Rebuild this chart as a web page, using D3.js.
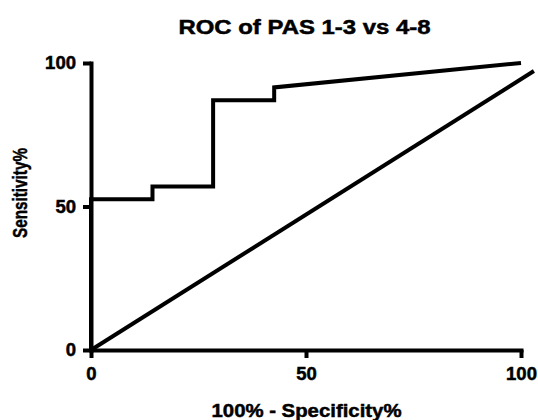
<!DOCTYPE html>
<html>
<head>
<meta charset="utf-8">
<script src="https://cdn.jsdelivr.net/npm/d3@7"></script>
<style>
  html, body { margin: 0; padding: 0; background: #fff; }
  svg { display: block; }
  text { font-family: "Liberation Sans", Arial, Helvetica, sans-serif; font-weight: bold; fill: #000; stroke: #000; stroke-width: 0.5px; }
</style>
</head>
<body>
<svg id="chart" width="538" height="420"></svg>
<script>
// ---- data ----
const title = "ROC of PAS 1-3 vs 4-8";
const xLabel = "100% - Specificity%";
const yLabel = "Sensitivity%";
const xTicks = [0, 50, 100];
const yTicks = [0, 50, 100];
// ROC curve (100% - specificity, sensitivity)
const rocX = [0, 0, 14.3, 14.3, 28.4, 28.4, 42.6, 42.6, 100];
const rocY = [0, 52.5, 52.5, 57, 57, 87, 87, 91.5, 100];
// reference line as drawn
const refX = [0, 103];
const refY = [0, 97.2];

// ---- layout ----
const svg = d3.select("#chart");
const x = d3.scaleLinear().domain([0, 100]).range([91, 521]);
const y = d3.scaleLinear().domain([0, 100]).range([350, 63]);

const line = d3.line().x(d => x(d[0])).y(d => y(d[1]));

// axes
const xAxis = svg.append("g")
  .attr("transform", `translate(0,${y(0)})`)
  .call(d3.axisBottom(x).tickValues(xTicks).tickSize(8).tickSizeOuter(0).tickPadding(9));
const yAxis = svg.append("g")
  .attr("transform", `translate(${x(0)},0)`)
  .call(d3.axisLeft(y).tickValues(yTicks).tickSize(8).tickSizeOuter(0).tickPadding(7));

[xAxis, yAxis].forEach(g => {
  g.select(".domain").attr("stroke", "#000").attr("stroke-width", 4).attr("stroke-linecap", "square");
  g.selectAll(".tick line").attr("stroke", "#000").attr("stroke-width", 4);
  g.selectAll(".tick text")
    .style("font-family", '"Liberation Sans", Arial, sans-serif')
    .style("font-weight", "bold")
    .style("font-size", "18px")
    .style("stroke", "#000").style("stroke-width", "0.5px")
    .attr("fill", "#000")
    .attr("textLength", d => String(d).length * 10.3)
    .attr("lengthAdjust", "spacingAndGlyphs");
});

// reference diagonal
svg.append("path")
  .datum(refX.map((v, i) => [v, refY[i]]))
  .attr("d", line)
  .attr("fill", "none")
  .attr("stroke", "#000")
  .attr("stroke-width", 4);

// ROC curve
svg.append("path")
  .datum(rocX.map((v, i) => [v, rocY[i]]))
  .attr("d", line)
  .attr("fill", "none")
  .attr("stroke", "#000")
  .attr("stroke-width", 4)
  .attr("stroke-linejoin", "miter");

// title
svg.append("text")
  .attr("x", 304.5).attr("y", 34)
  .attr("text-anchor", "middle")
  .attr("font-size", 20)
  .attr("textLength", 252).attr("lengthAdjust", "spacingAndGlyphs")
  .text(title);

// x label
svg.append("text")
  .attr("x", 306.5).attr("y", 416.5)
  .attr("text-anchor", "middle")
  .attr("font-size", 19)
  .attr("textLength", 190).attr("lengthAdjust", "spacingAndGlyphs")
  .text(xLabel);

// y label
svg.append("text")
  .attr("transform", "translate(27,193) rotate(-90)")
  .attr("text-anchor", "middle")
  .attr("font-size", 21)
  .attr("textLength", 90).attr("lengthAdjust", "spacingAndGlyphs")
  .text(yLabel);
</script>
</body>
</html>
